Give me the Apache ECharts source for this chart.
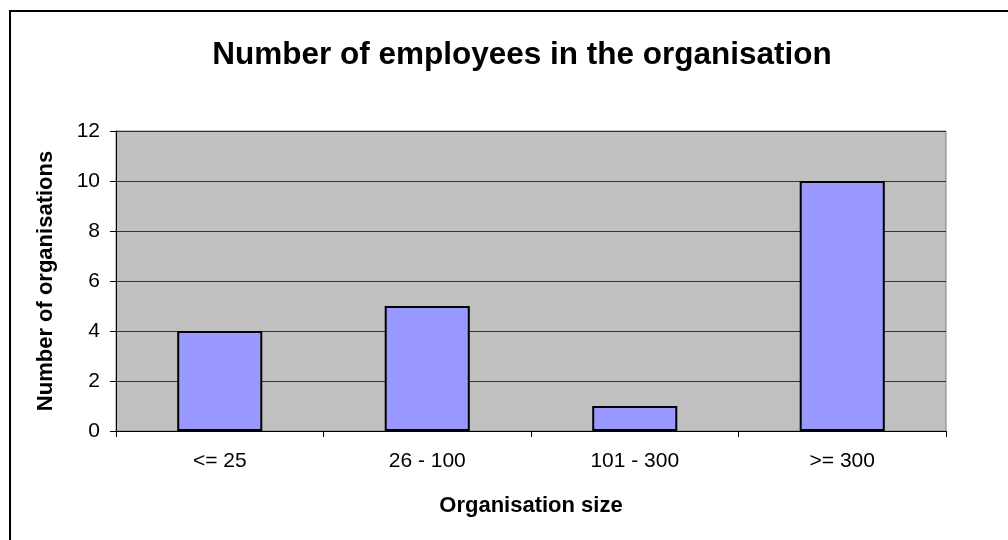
<!DOCTYPE html>
<html>
<head>
<meta charset="utf-8">
<script src="https://cdn.jsdelivr.net/npm/echarts@6/dist/echarts.min.js"></script>
<style>
  html, body { margin: 0; padding: 0; background: #fff; }
  #chart { width: 1008px; height: 540px; }
</style>
</head>
<body>
<div id="chart"></div>
<script>
// Organisation size bands and how many organisations fall in each
const categories = ['<= 25', '26 - 100', '101 - 300', '>= 300'];
const organisations = [4, 5, 1, 10];
const yTicks = { min: 0, max: 12, interval: 2 };

const FONT = '"Liberation Sans", Arial, sans-serif';

const chart = echarts.init(document.getElementById('chart'), null, { renderer: 'canvas' });

chart.setOption({
  backgroundColor: '#ffffff',
  animation: false,
  title: {
    text: 'Number of employees in the organisation',
    left: 517,
    top: 34,
    textAlign: 'center',
    textStyle: { fontFamily: FONT, fontSize: 31.5, fontWeight: 'bold', color: '#000' }
  },
  graphic: [
    {
      type: 'polyline',
      shape: { points: [[10, 600], [10, 11], [1100, 11]] },
      style: { stroke: '#000', lineWidth: 2, fill: null },
      silent: true
    }
  ],
  grid: {
    left: 116,
    right: 62,
    top: 131,
    bottom: 109,
    show: true,
    backgroundColor: '#c0c0c0',
    borderColor: '#808080',
    borderWidth: 1
  },
  xAxis: {
    type: 'category',
    data: categories,
    name: 'Organisation size',
    nameLocation: 'middle',
    nameGap: 64,
    nameTextStyle: { fontFamily: FONT, fontSize: 22, fontWeight: 'bold', color: '#000' },
    axisLine: { lineStyle: { color: '#000', width: 1 } },
    axisTick: { show: true, alignWithLabel: false, length: 6, lineStyle: { color: '#000' } },
    axisLabel: { fontFamily: FONT, fontSize: 21, color: '#000', margin: 20 },
    splitLine: { show: false }
  },
  yAxis: {
    type: 'value',
    min: yTicks.min,
    max: yTicks.max,
    interval: yTicks.interval,
    name: 'Number of organisations',
    nameLocation: 'middle',
    nameGap: 59,
    nameTextStyle: { fontFamily: FONT, fontSize: 22, fontWeight: 'bold', color: '#000' },
    axisLine: { show: true, lineStyle: { color: '#000', width: 1 } },
    axisTick: { show: true, length: 6, lineStyle: { color: '#000' } },
    axisLabel: { fontFamily: FONT, fontSize: 21, color: '#000', margin: 16 },
    splitLine: { show: true, lineStyle: { color: '#333', width: 1 } }
  },
  series: [
    {
      type: 'bar',
      data: organisations,
      barWidth: '41%',
      itemStyle: { color: '#9999ff', borderColor: '#000', borderWidth: 2 }
    }
  ]
});
</script>
</body>
</html>
